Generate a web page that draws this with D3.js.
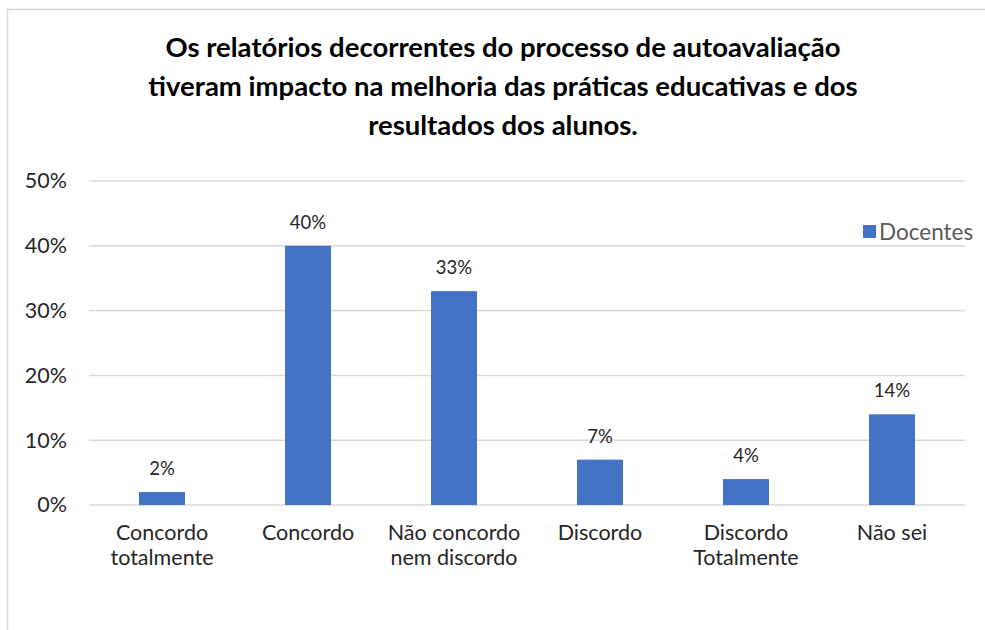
<!DOCTYPE html>
<html>
<head>
<meta charset="utf-8">
<script src="https://cdn.jsdelivr.net/npm/d3@7"></script>
<style>
  body { margin: 0; background: #fff; }
  text { font-family: Lato, "Open Sans", sans-serif; }
</style>
</head>
<body>
<div id="chart-area"></div>
<script>
// data
var categories = [["Concordo", "totalmente"], ["Concordo"], ["Não concordo", "nem discordo"],
                  ["Discordo"], ["Discordo", "Totalmente"], ["Não sei"]];
var docentes = [0.02, 0.40, 0.33, 0.07, 0.04, 0.14];
var yTicks = [0, 0.1, 0.2, 0.3, 0.4, 0.5];
var titleLines = ["Os relatórios decorrentes do processo de autoavaliação",
                  "tiveram impacto na melhoria das práticas educativas e dos",
                  "resultados dos alunos."];
var seriesName = "Docentes";

var W = 985, H = 630;
var margin = { left: 89, right: 20, top: 181, bottom: 125 };
var width = 965 - margin.left,
    height = 505 - margin.top;

var svg = d3.select("#chart-area")
    .append("svg")
        .attr("width", W)
        .attr("height", H);

// outer border
svg.append("rect")
    .attr("x", 7.5).attr("y", 9.5)
    .attr("width", W + 10).attr("height", H + 10)
    .attr("fill", "none")
    .attr("stroke", "#d9d9d9")
    .attr("stroke-width", 1.5);

// title
svg.append("text")
    .attr("text-anchor", "middle")
    .attr("font-size", "27.5px")
    .attr("font-weight", "bold")
    .attr("fill", "#000")
    .selectAll("tspan")
    .data(titleLines)
    .enter().append("tspan")
        .attr("x", 503)
        .attr("y", function(d, i) { return 57 + i * 39; })
        .text(function(d) { return d; });

var g = svg.append("g")
    .attr("transform", "translate(" + margin.left + "," + margin.top + ")");

// scales
var xScale = d3.scaleBand()
    .domain(d3.range(categories.length))
    .range([0, width])
    .paddingInner(0.685)
    .paddingOuter(0.3425);
var yScale = d3.scaleLinear()
    .domain([0, 0.5])
    .range([height, 0]);

// gridlines
g.selectAll(".grid")
    .data(yTicks)
    .enter().append("line")
        .attr("x1", 0).attr("x2", width)
        .attr("y1", function(d) { return yScale(d); })
        .attr("y2", function(d) { return yScale(d); })
        .attr("stroke", "#d9d9d9")
        .attr("stroke-width", 1.5);

// Y axis
var yAxisCall = d3.axisLeft(yScale)
    .tickValues(yTicks)
    .tickFormat(d3.format(".0%"))
    .tickSize(0)
    .tickPadding(22);
var yAxis = g.append("g").call(yAxisCall);
yAxis.select(".domain").remove();
yAxis.selectAll("text")
    .attr("font-size", "21.5px")
    .attr("font-family", "Lato, sans-serif")
    .attr("fill", "#262626");

// bars
g.selectAll(".bar")
    .data(docentes)
    .enter().append("rect")
        .attr("x", function(d, i) { return xScale(i); })
        .attr("y", function(d) { return yScale(d); })
        .attr("width", xScale.bandwidth())
        .attr("height", function(d) { return height - yScale(d); })
        .attr("fill", "#4472c4");

// value labels
g.selectAll(".val")
    .data(docentes)
    .enter().append("text")
        .attr("x", function(d, i) { return xScale(i) + xScale.bandwidth() / 2; })
        .attr("y", function(d) { return yScale(d) - 17; })
        .attr("text-anchor", "middle")
        .attr("font-size", "18.5px")
        .attr("fill", "#262626")
        .text(function(d) { return d3.format(".0%")(d); });

// x labels
var xl = g.selectAll(".xl")
    .data(categories)
    .enter().append("text")
        .attr("text-anchor", "middle")
        .attr("font-size", "21.5px")
        .attr("fill", "#262626");
xl.selectAll("tspan")
    .data(function(d, i) { return d.map(function(t) { return { t: t, i: i }; }); })
    .enter().append("tspan")
        .attr("x", function(d) { return xScale(d.i) + xScale.bandwidth() / 2; })
        .attr("y", function(d, j) { return height + 35 + j * 25; })
        .text(function(d) { return d.t; });

// legend
svg.append("rect")
    .attr("x", 863).attr("y", 225)
    .attr("width", 13).attr("height", 13)
    .attr("fill", "#4472c4");
svg.append("text")
    .attr("x", 879).attr("y", 240)
    .attr("font-size", "22.5px")
    .attr("fill", "#595959")
    .text(seriesName);
</script>
</body>
</html>
